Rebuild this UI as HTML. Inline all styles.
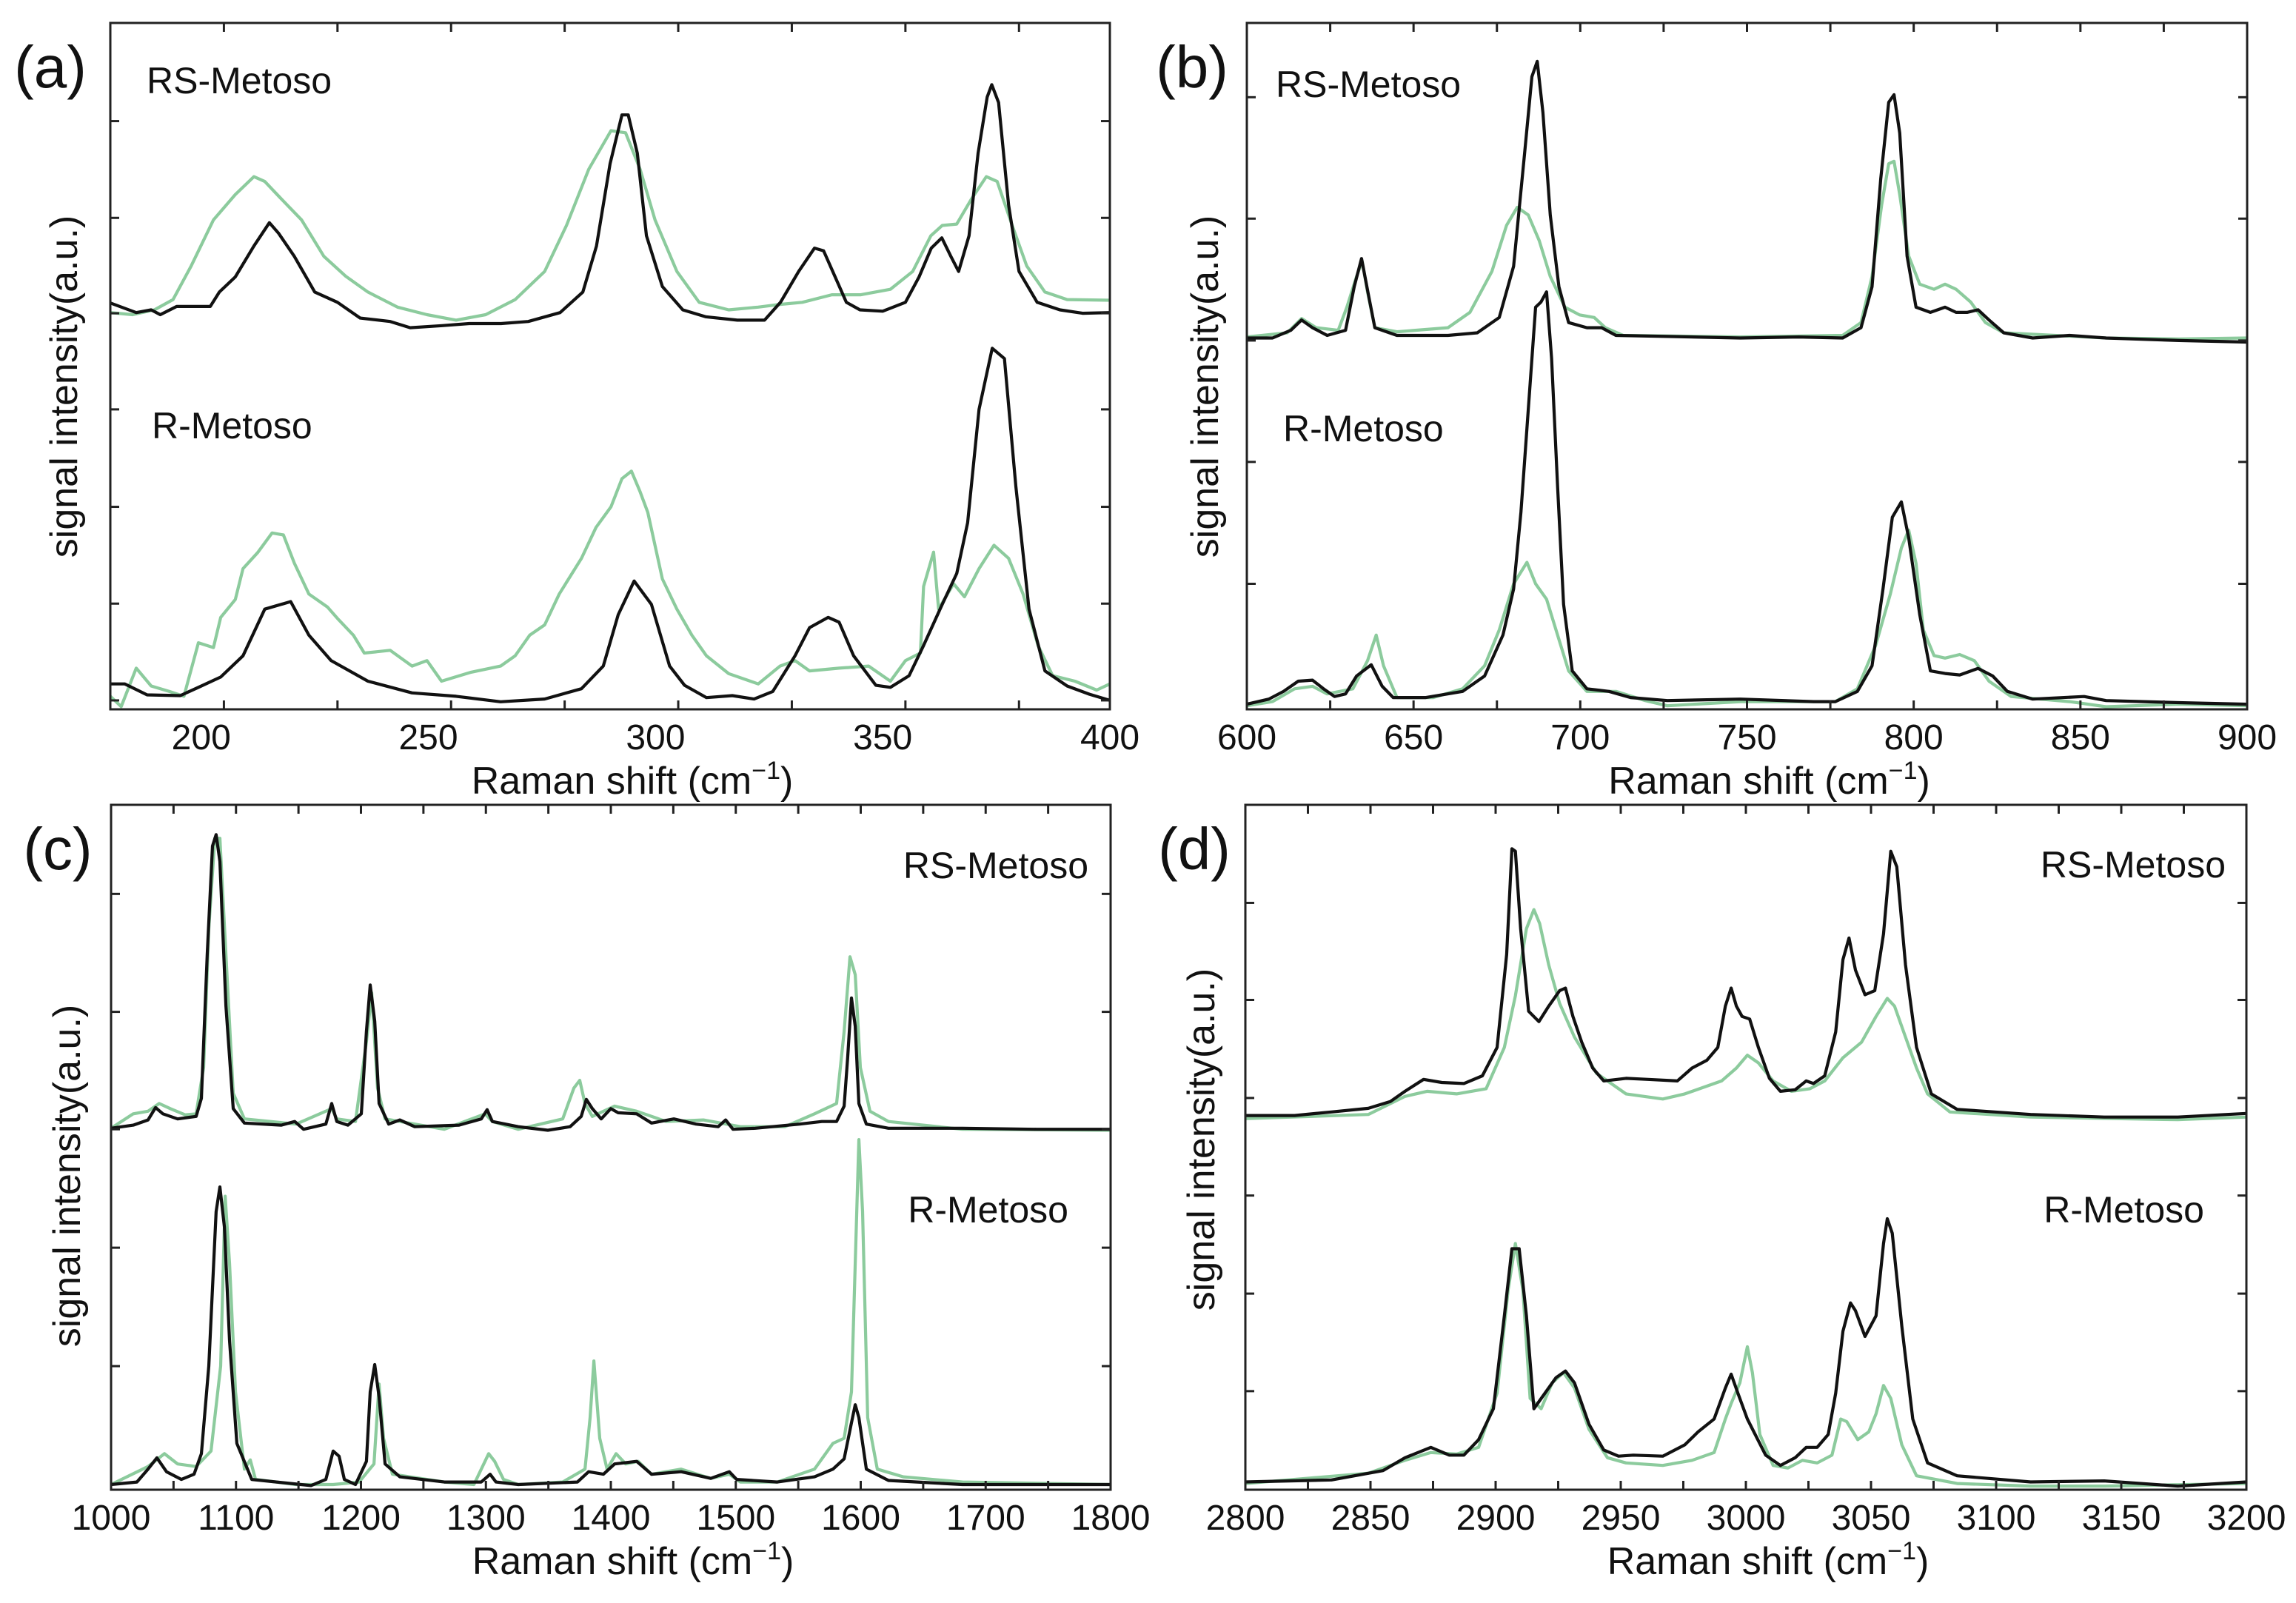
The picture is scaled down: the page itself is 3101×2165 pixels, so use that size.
<!DOCTYPE html>
<html><head><meta charset="utf-8">
<style>
html,body{margin:0;padding:0;background:#fff;}
svg{display:block;font-family:"Liberation Sans",Arial,sans-serif;}
</style></head>
<body>
<svg id="fig" width="3101" height="2165" viewBox="0 0 3101 2165" xmlns="http://www.w3.org/2000/svg"></svg>
<script>
// ---------- Panel (a) data (x: cm-1, y: a.u.) ----------
const a_RS_black=[[180,59.2],[185.7,57.8],[189,58.2],[191,57.5],[194.6,58.7],[202,58.7],[204,60.8],[207.5,63],[211.6,67.5],[215,70.9],[217,69.4],[220.5,66],[225,60.8],[230,59.3],[235,57],[241.6,56.5],[246,55.6],[253,55.9],[259,56.2],[266,56.2],[272,56.5],[279,57.8],[284,60.8],[287,67.5],[290,79.5],[292.6,86.6],[294,86.6],[296,81],[298,69],[301.5,61.6],[306,58.2],[311,57.2],[318,56.7],[324,56.7],[327.5,59.3],[331.5,63.8],[335,67.2],[337,66.8],[339,63.8],[342,59.3],[345,58.2],[350,58],[355,59.3],[358,63],[360.7,67.2],[363,68.7],[365,66],[366.7,63.8],[369,69],[371,81],[373,89.2],[374,91],[375.5,88.4],[377.7,73.5],[380,63.8],[384,59.3],[389,58.2],[394,57.7],[400,57.8]];
const a_RS_green=[[180,57.8],[184.9,57.5],[189.7,58.2],[193.8,59.7],[197.8,64.6],[202.7,71.3],[207.5,75],[211.6,77.6],[214,76.9],[217.3,74.6],[222.1,71.3],[227,66],[231.8,63.1],[236.7,60.8],[243.2,58.6],[249.7,57.5],[256.1,56.7],[262.6,57.5],[269.1,59.7],[275.6,63.8],[280.4,70.5],[285.3,78.7],[290.2,84.3],[293.4,84],[296.6,78.7],[299.9,71.3],[304.7,63.8],[309.6,59.3],[316.1,58.2],[322.6,58.6],[327.4,59],[332.3,59.3],[338.8,60.4],[345.2,60.4],[351.7,61.2],[356.6,63.8],[360.6,69],[363.1,70.5],[366.3,70.7],[369.5,74.3],[372.8,77.6],[375.2,76.9],[378.5,70.5],[381.7,64.6],[385.7,60.8],[390.6,59.7],[400,59.6]];
const a_R_black=[[180,3.7],[183.2,3.7],[188.1,2.1],[195.4,2],[199.4,3.2],[204.3,4.7],[209.2,7.8],[214,14.6],[219.7,15.7],[223.7,10.8],[228.6,7.1],[236.7,4.1],[246.4,2.4],[256.1,1.9],[265.9,1.1],[275.6,1.5],[283.7,3],[288.5,6.3],[291.8,13.8],[295.3,18.7],[299.1,15.3],[303.1,6.3],[306.4,3.5],[311.2,1.7],[316.9,2],[321.7,1.5],[325.8,2.6],[330.7,7.8],[333.9,11.9],[338,13.4],[340.4,12.7],[343.6,7.8],[348.5,3.5],[351.7,3.2],[355.8,4.9],[359,9.3],[363.1,15.3],[366.3,19.8],[368.7,27.2],[371.2,43.7],[374.1,52.6],[376.8,51.1],[379.3,32.5],[382.2,14.6],[385.7,5.6],[390.6,3.4],[395.5,2.2],[400,1.3]];
const a_R_green=[[180,1.9],[182.4,0.4],[185.7,6],[189,3.4],[193,2.6],[196.2,1.9],[199.4,9.7],[202.7,9],[204.3,13.4],[207.5,16],[209.2,20.5],[212.4,22.8],[215.6,25.7],[218.1,25.4],[220.5,21.3],[223.7,16.8],[227.8,14.9],[230.2,13.1],[233.5,10.8],[235.9,8.2],[241.6,8.6],[246.4,6.3],[249.7,7.1],[252.9,4.1],[259.4,5.4],[265.9,6.3],[269.1,7.8],[272.3,10.8],[275.6,12.3],[278.8,16.8],[283.7,22],[286.9,26.5],[290.2,29.5],[292.6,33.6],[294.7,34.7],[296.6,31.7],[298.3,28.7],[301.5,19],[304.7,14.6],[308,10.8],[311.2,7.8],[316.1,5.2],[322.6,3.7],[327.4,6.3],[330.7,7.1],[333.9,5.6],[340.4,6],[346.9,6.3],[351.7,4.1],[355,7.1],[358.3,8.2],[359,17.9],[361.2,22.9],[362.3,14.6],[365.6,18.3],[368,16.4],[371.2,20.5],[374.5,23.9],[377.7,22],[380.9,16.8],[384.2,9.3],[387.4,4.9],[392.3,4.1],[397.1,2.8],[400,3.7]];
const a_xticks=[200,250,300,350,400];
const a_yticks=[1.3,15.4,29.5,43.7,57.7,71.6,85.7];

// ---------- Panel (b) data ----------
const b_RS_black=[[600,725],[607.7,725],[613.2,740],[616.4,760],[619.7,745],[624.1,730],[629.6,740],[632.2,825],[634.4,880],[636.6,805],[638.4,745],[645,730],[660.3,730],[669.1,735],[675.7,765],[680,865],[683.3,1085],[685.5,1235],[687.1,1265],[688.8,1165],[691,965],[693.6,825],[696.5,755],[702,745],[706.4,745],[710.7,730],[726.1,728],[748,725],[765.6,727],[778.7,725],[784.2,745],[787.5,825],[790.1,1035],[792.5,1185],[794.1,1200],[795.8,1125],[798,885],[800.7,785],[805,775],[809.4,785],[812.7,775],[816,775],[819.3,780],[822.6,760],[827,735],[835.7,725],[846.7,730],[857.7,725],[879.6,720],[900,717]];
const b_RS_green=[[600,727],[612.1,735],[616.4,763],[620.8,745],[627.4,740],[630,785],[632.9,845],[634.6,875],[636.2,815],[638.4,745],[645,737],[660.3,745],[666.9,775],[673.5,855],[677.9,945],[681.1,980],[684.4,965],[687.7,915],[691,845],[695.4,785],[699.8,770],[704.2,765],[707.5,745],[712.9,730],[748,727],[778.7,730],[784.2,755],[787.5,845],[790.4,985],[792.5,1065],[794.1,1070],[795.8,1005],[798.5,885],[801.8,830],[806.1,820],[809.4,830],[812.7,820],[817.1,795],[821.5,755],[827,735],[857.7,725],[879.6,723],[900,725]];
const b_R_black=[[600,10],[606.6,20],[611,35],[615.4,55],[619.7,57],[623,40],[626.3,25],[629.6,30],[632.9,65],[637.3,87],[640.6,45],[643.9,23],[653.7,23],[664.7,35],[671.3,65],[676.8,145],[680,235],[682.2,385],[684.4,585],[686.6,785],[688.2,795],[689.9,815],[691.4,685],[693.2,435],[695,205],[697.6,75],[702,40],[708.6,35],[715.1,23],[726.1,17],[748,20],[770,15],[776.5,15],[783.1,35],[787.5,85],[790.8,235],[793.6,375],[796.3,405],[798.5,335],[801.8,185],[805,75],[809.4,70],[813.8,67],[819.3,80],[823.7,65],[828.1,35],[835.7,20],[851.1,25],[857.7,17],[879.6,13],[900,10]];
const b_R_green=[[600,7],[607.7,15],[614.3,40],[619.7,45],[624.1,30],[631.8,40],[636.2,95],[638.8,145],[641,85],[645,23],[655.9,23],[664.7,40],[671.3,85],[675.7,155],[680,245],[684,287],[686.6,245],[689.9,215],[693.2,145],[696.5,75],[702,35],[710.7,35],[719.5,17],[726.1,7],[748,15],[776.5,15],[783.1,40],[788.6,125],[793,225],[796.3,315],[798.5,350],[800.7,285],[802.9,155],[806.1,105],[809.4,100],[813.8,107],[818.2,95],[822.6,55],[829.2,25],[846.7,15],[857.7,5],[879.6,10],[900,7]];
const b_xticks=[600,650,700,750,800,850,900];
const b_yticks=[245,483,720,958,1195];

// ---------- Panel (c) data ----------
const c_RS_black=[[1000,702],[1017.8,708],[1029.6,718],[1035.6,742],[1041.5,730],[1053.3,720],[1068.1,725],[1072.3,760],[1077,1040],[1081.2,1250],[1084.1,1272],[1087.1,1220],[1091.9,940],[1097.8,740],[1106.7,712],[1136.3,708],[1147,715],[1154.1,700],[1171.9,710],[1176.6,750],[1180.7,715],[1189.6,708],[1200.3,730],[1204.4,890],[1207.4,980],[1211,910],[1214.5,750],[1222.2,710],[1231.1,718],[1243,705],[1278.5,708],[1296.3,720],[1301,738],[1305.2,715],[1325.9,705],[1349.6,698],[1367.4,705],[1376.3,725],[1380.4,758],[1385.2,740],[1392.3,720],[1400,740],[1405.9,732],[1420.7,730],[1432.6,712],[1450.4,720],[1468.2,710],[1485.9,705],[1491.9,718],[1497.8,700],[1515.6,702],[1551.1,710],[1568.9,715],[1580.7,715],[1586.7,745],[1589.6,840],[1592.6,955],[1595.6,900],[1598.5,750],[1604.5,710],[1622.2,702],[1681.5,702],[1740.7,700],[1800,700]];
const c_RS_green=[[1000,702],[1017.8,730],[1029.6,735],[1038.5,750],[1047.4,740],[1059.3,728],[1068.1,730],[1074.1,820],[1078.2,1090],[1083,1265],[1087.1,1265],[1091.9,1040],[1097.8,770],[1106.7,720],[1148.1,710],[1176.6,740],[1180.7,720],[1195.6,715],[1204.4,870],[1208.6,965],[1213.3,780],[1219.3,720],[1266.7,700],[1299.3,730],[1305.2,715],[1325.9,700],[1361.5,720],[1370.4,780],[1375.1,795],[1379.3,750],[1385.2,725],[1403,745],[1420.7,735],[1444.4,715],[1474.1,718],[1503.7,705],[1539.3,705],[1563,730],[1580.7,750],[1586.7,890],[1591.4,1035],[1595.6,1000],[1599.7,820],[1607.4,735],[1622.2,715],[1681.5,700],[1800,698]];
const c_R_black=[[1000,10],[1020.7,15],[1029.6,40],[1036.7,62],[1044.4,35],[1056.3,20],[1066.4,30],[1072.3,70],[1078.2,240],[1084.1,540],[1087.1,588],[1090.7,510],[1094.8,290],[1100.7,90],[1112.6,20],[1160,8],[1171.9,20],[1177.8,75],[1182.5,65],[1186.7,20],[1195.6,10],[1204.4,55],[1207.4,190],[1211,243],[1214.5,180],[1219.3,50],[1231.1,25],[1266.7,15],[1296.3,15],[1303.4,30],[1308.1,15],[1325.9,10],[1373.3,15],[1382.2,35],[1394.1,30],[1403,50],[1420.7,55],[1432.6,30],[1456.3,35],[1480,22],[1494.8,35],[1500.7,20],[1533.3,15],[1563,25],[1577.8,40],[1586.7,60],[1592.6,130],[1595.6,165],[1598.5,140],[1604.5,40],[1622.2,18],[1681.5,10],[1800,10]];
const c_R_green=[[1000,10],[1029.6,45],[1042.7,70],[1053.3,50],[1068.1,45],[1080,75],[1087.7,240],[1091.3,570],[1094.8,440],[1099.6,190],[1106.7,40],[1111.4,58],[1115.6,20],[1148.1,10],[1177.8,10],[1198.5,15],[1210.4,50],[1214.5,205],[1218.1,100],[1225.2,30],[1266.7,15],[1290.4,10],[1302.2,70],[1307,55],[1314.1,20],[1325.9,10],[1361.5,15],[1379.3,40],[1383.4,140],[1386.4,250],[1391.1,100],[1397,40],[1404.2,70],[1411.9,50],[1421.9,55],[1432.6,30],[1456.3,40],[1480,22],[1494.8,30],[1503.7,15],[1533.3,15],[1563,40],[1577.8,90],[1586.7,100],[1592.6,190],[1595.6,440],[1598.5,680],[1601.5,540],[1605.6,140],[1613.3,40],[1634.1,25],[1681.5,15],[1800,10]];
const c_xticks=[1000,1100,1200,1300,1400,1500,1600,1700,1800];
const c_yticks=[240,470,700,928,1157];

// ---------- Panel (d) data ----------
const d_RS_black=[[2800,725],[2819.7,725],[2834.4,732],[2849.1,739],[2857.9,752],[2863.8,772],[2871.2,795],[2878.5,789],[2887.3,787],[2894.7,802],[2900.6,857],[2904.4,1037],[2906.5,1242],[2907.9,1237],[2910,1087],[2913.2,927],[2917.3,907],[2921.2,937],[2925.6,967],[2927.9,972],[2930.9,917],[2934.4,867],[2938.8,817],[2943.2,792],[2952.1,797],[2960.9,795],[2972.6,792],[2978.5,817],[2984.4,832],[2988.8,857],[2991.8,937],[2994.1,972],[2996.2,937],[2998.5,917],[3001.5,912],[3005,857],[3009.4,797],[3013.8,772],[3019.7,775],[3024.1,792],[3027,787],[3031.5,802],[3035.9,887],[3038.8,1027],[3041.2,1069],[3043.8,1007],[3047.6,959],[3051.5,967],[3055,1077],[3057.9,1237],[3060.3,1207],[3063.8,1017],[3068.2,857],[3074.1,767],[3084.4,737],[3113.8,727],[3143.2,722],[3172.6,722],[3200,729]];
const d_RS_green=[[2800,719],[2849.1,727],[2863.8,762],[2872.6,772],[2884.4,767],[2896.2,777],[2903.5,857],[2907.9,957],[2912.3,1087],[2915.3,1124],[2917.6,1097],[2921.2,1017],[2925.6,942],[2931.5,877],[2940.3,807],[2952.1,767],[2966.8,757],[2975.6,767],[2981.5,777],[2990.3,792],[2996.2,817],[3000.6,842],[3005,827],[3010.9,792],[3018.2,772],[3025.6,777],[3031.5,792],[3038.8,837],[3046.2,867],[3052,917],[3056.5,952],[3059.4,937],[3063.8,877],[3068.2,817],[3072.6,767],[3081.5,732],[3113.8,722],[3172.6,717],[3200,722]];
const d_R_black=[[2800,15],[2834.4,19],[2855,37],[2863.8,62],[2874.1,82],[2881.5,67],[2887.3,67],[2893.2,97],[2899.1,157],[2903.5,337],[2906.5,467],[2909.4,467],[2912.3,337],[2915.3,157],[2919.7,187],[2924.1,217],[2927.9,230],[2931.5,207],[2937.3,127],[2943.2,77],[2949.1,65],[2955,67],[2966.8,65],[2975.6,87],[2980.9,112],[2987.3,137],[2991.8,197],[2994.1,224],[2996.8,187],[3000.6,137],[3007.9,67],[3013.8,47],[3019.7,62],[3024.1,82],[3028.5,82],[3032.9,107],[3035.9,187],[3038.8,307],[3041.8,362],[3043.8,347],[3047.6,297],[3052,337],[3055,477],[3056.5,525],[3058.5,497],[3062.3,317],[3066.7,137],[3072.6,52],[3084.4,27],[3113.8,15],[3143.2,17],[3172.6,7],[3200,15]];
const d_R_green=[[2800,12],[2849.1,32],[2863.8,57],[2874.1,72],[2884.4,69],[2893.2,82],[2900.6,187],[2905,387],[2907.9,477],[2910.9,387],[2913.8,177],[2918.2,157],[2922.6,207],[2927.1,227],[2931.5,197],[2937.3,117],[2944.7,62],[2952.1,52],[2966.8,47],[2978.5,57],[2987.3,72],[2991.8,137],[2994.1,167],[2997.6,207],[3000.6,277],[3002.6,227],[3005.6,107],[3010.9,47],[3016.8,42],[3022.6,57],[3028.5,52],[3034.4,67],[3037.9,137],[3040.3,132],[3044.7,97],[3049.1,112],[3052,147],[3055,202],[3057.9,177],[3062.3,87],[3068.2,27],[3084.4,12],[3113.8,7],[3143.2,7],[3200,12]];
const d_xticks=[2800,2850,2900,2950,3000,3050,3100,3150,3200];
const d_yticks=[191,380,570,759,949,1137];

const NS='http://www.w3.org/2000/svg';
const svg=document.getElementById('fig');
const GREEN='#8ccb9d', BLACK='#111111';

function mk(tag,parent){const e=document.createElementNS(NS,tag);parent.appendChild(e);return e;}

function panel(cfg){
  const g=mk('g',svg);
  
  
  const sx=v=>cfg.L+(v-cfg.x0)/(cfg.x1-cfg.x0)*(cfg.R-cfg.L);
  const sy=v=>cfg.B-(v-cfg.y0)/(cfg.y1-cfg.y0)*(cfg.B-cfg.T);
  cfg.series.forEach(s=>{
    const p=mk('polyline',g);
    
    
    p.setAttribute('points',s.data.map(d=>sx(d[0]).toFixed(1)+','+sy(d[1]).toFixed(1)).join(' '));
    p.setAttribute('fill','none');
    p.setAttribute('stroke',s.color);
    p.setAttribute('stroke-width','4.2');
    p.setAttribute('stroke-linejoin','round');
  });
  const fr=mk('rect',g);
  
  
  fr.setAttribute('x',cfg.L);fr.setAttribute('y',cfg.T);
  fr.setAttribute('width',cfg.R-cfg.L);fr.setAttribute('height',cfg.B-cfg.T);
  fr.setAttribute('fill','none');fr.setAttribute('stroke','#222');fr.setAttribute('stroke-width','3');
  for(let v=cfg.x0; v<=cfg.x1+1e-6; v+=cfg.minor){
    const x=sx(v);
    [[cfg.B,cfg.B-12],[cfg.T,cfg.T+12]].forEach(([a,b])=>{
      const t=mk('line',g);
      
      
      t.setAttribute('x1',x);t.setAttribute('x2',x);t.setAttribute('y1',a);t.setAttribute('y2',b);
      t.setAttribute('stroke','#222');t.setAttribute('stroke-width','3');
    });
  }
  cfg.xticks.forEach(v=>{
    const t=mk('text',g);
    
    
    t.setAttribute('x',sx(v));t.setAttribute('y',cfg.B+54);
    t.setAttribute('text-anchor','middle');t.setAttribute('font-size','48');t.setAttribute('fill','#111');
    t.textContent=v;
  });
  cfg.yticks.forEach(v=>{
    const y=sy(v);
    [[cfg.L,cfg.L+12],[cfg.R,cfg.R-12]].forEach(([a,b])=>{
      const t=mk('line',g);
      
      
      t.setAttribute('x1',a);t.setAttribute('x2',b);t.setAttribute('y1',y);t.setAttribute('y2',y);
      t.setAttribute('stroke','#222');t.setAttribute('stroke-width','3');
    });
  });
  const xt=mk('text',g);
  
  
  xt.setAttribute('x',(cfg.L+cfg.R)/2+30);xt.setAttribute('y',cfg.B+114);
  xt.setAttribute('text-anchor','middle');xt.setAttribute('font-size','52');xt.setAttribute('fill','#111');
  xt.innerHTML='Raman shift (cm<tspan dy="-20" font-size="34">\u22121</tspan><tspan dy="20">)</tspan>';
  const yt=mk('text',g);
  
  
  yt.setAttribute('transform','translate('+(cfg.ytx)+','+(cfg.yty)+') rotate(-90)');
  yt.setAttribute('text-anchor','middle');yt.setAttribute('font-size','52');yt.setAttribute('fill','#111');
  yt.textContent='signal intensity(a.u.)';
  const pl=mk('text',g);
  
  
  pl.setAttribute('x',cfg.plx);pl.setAttribute('y',cfg.ply);
  pl.setAttribute('text-anchor','middle');pl.setAttribute('font-size','80');pl.setAttribute('fill','#111');
  pl.textContent=cfg.label;
  cfg.texts.forEach(tx=>{
    const t=mk('text',g);
    
    
    t.setAttribute('x',tx.x);t.setAttribute('y',tx.y+18);
    t.setAttribute('text-anchor',tx.anchor);t.setAttribute('font-size','50');t.setAttribute('fill','#111');
    t.textContent=tx.t;
  });
}

panel({id:'panel-a',L:149,R:1499,T:31,B:958,x0:180,x1:400,y0:0,y1:100,minor:25,xticks:a_xticks,yticks:a_yticks,
  series:[{name:'rs-metoso-green-line',data:a_RS_green,color:GREEN},{name:'rs-metoso-black-line',data:a_RS_black,color:BLACK},
          {name:'r-metoso-green-line',data:a_R_green,color:GREEN},{name:'r-metoso-black-line',data:a_R_black,color:BLACK}],
  ytx:104,yty:522,plx:68,ply:118,label:'(a)',
  texts:[{name:'rs-metoso-label',t:'RS-Metoso',x:198,y:108,anchor:'start'},{name:'r-metoso-label',t:'R-Metoso',x:205,y:574,anchor:'start'}]});
panel({id:'panel-b',L:1684,R:3035,T:31,B:958,x0:600,x1:900,y0:0,y1:1340,minor:25,xticks:b_xticks,yticks:b_yticks,
  series:[{name:'rs-metoso-green-line',data:b_RS_green,color:GREEN},{name:'rs-metoso-black-line',data:b_RS_black,color:BLACK},
          {name:'r-metoso-green-line',data:b_R_green,color:GREEN},{name:'r-metoso-black-line',data:b_R_black,color:BLACK}],
  ytx:1645,yty:522,plx:1610,ply:118,label:'(b)',
  texts:[{name:'rs-metoso-label',t:'RS-Metoso',x:1723,y:113,anchor:'start'},{name:'r-metoso-label',t:'R-Metoso',x:1733,y:578,anchor:'start'}]});
panel({id:'panel-c',L:150,R:1500,T:1087,B:2012,x0:1000,x1:1800,y0:0,y1:1330,minor:50,xticks:c_xticks,yticks:c_yticks,
  series:[{name:'rs-metoso-green-line',data:c_RS_green,color:GREEN},{name:'rs-metoso-black-line',data:c_RS_black,color:BLACK},
          {name:'r-metoso-green-line',data:c_R_green,color:GREEN},{name:'r-metoso-black-line',data:c_R_black,color:BLACK}],
  ytx:108,yty:1588,plx:78,ply:1174,label:'(c)',
  texts:[{name:'rs-metoso-label',t:'RS-Metoso',x:1470,y:1168,anchor:'end'},{name:'r-metoso-label',t:'R-Metoso',x:1443,y:1633,anchor:'end'}]});
panel({id:'panel-d',L:1682,R:3034,T:1087,B:2012,x0:2800,x1:3200,y0:0,y1:1327,minor:25,xticks:d_xticks,yticks:d_yticks,
  series:[{name:'rs-metoso-green-line',data:d_RS_green,color:GREEN},{name:'rs-metoso-black-line',data:d_RS_black,color:BLACK},
          {name:'r-metoso-green-line',data:d_R_green,color:GREEN},{name:'r-metoso-black-line',data:d_R_black,color:BLACK}],
  ytx:1640,yty:1539,plx:1613,ply:1174,label:'(d)',
  texts:[{name:'rs-metoso-label',t:'RS-Metoso',x:3006,y:1167,anchor:'end'},{name:'r-metoso-label',t:'R-Metoso',x:2977,y:1633,anchor:'end'}]});
</script>
</body></html>
